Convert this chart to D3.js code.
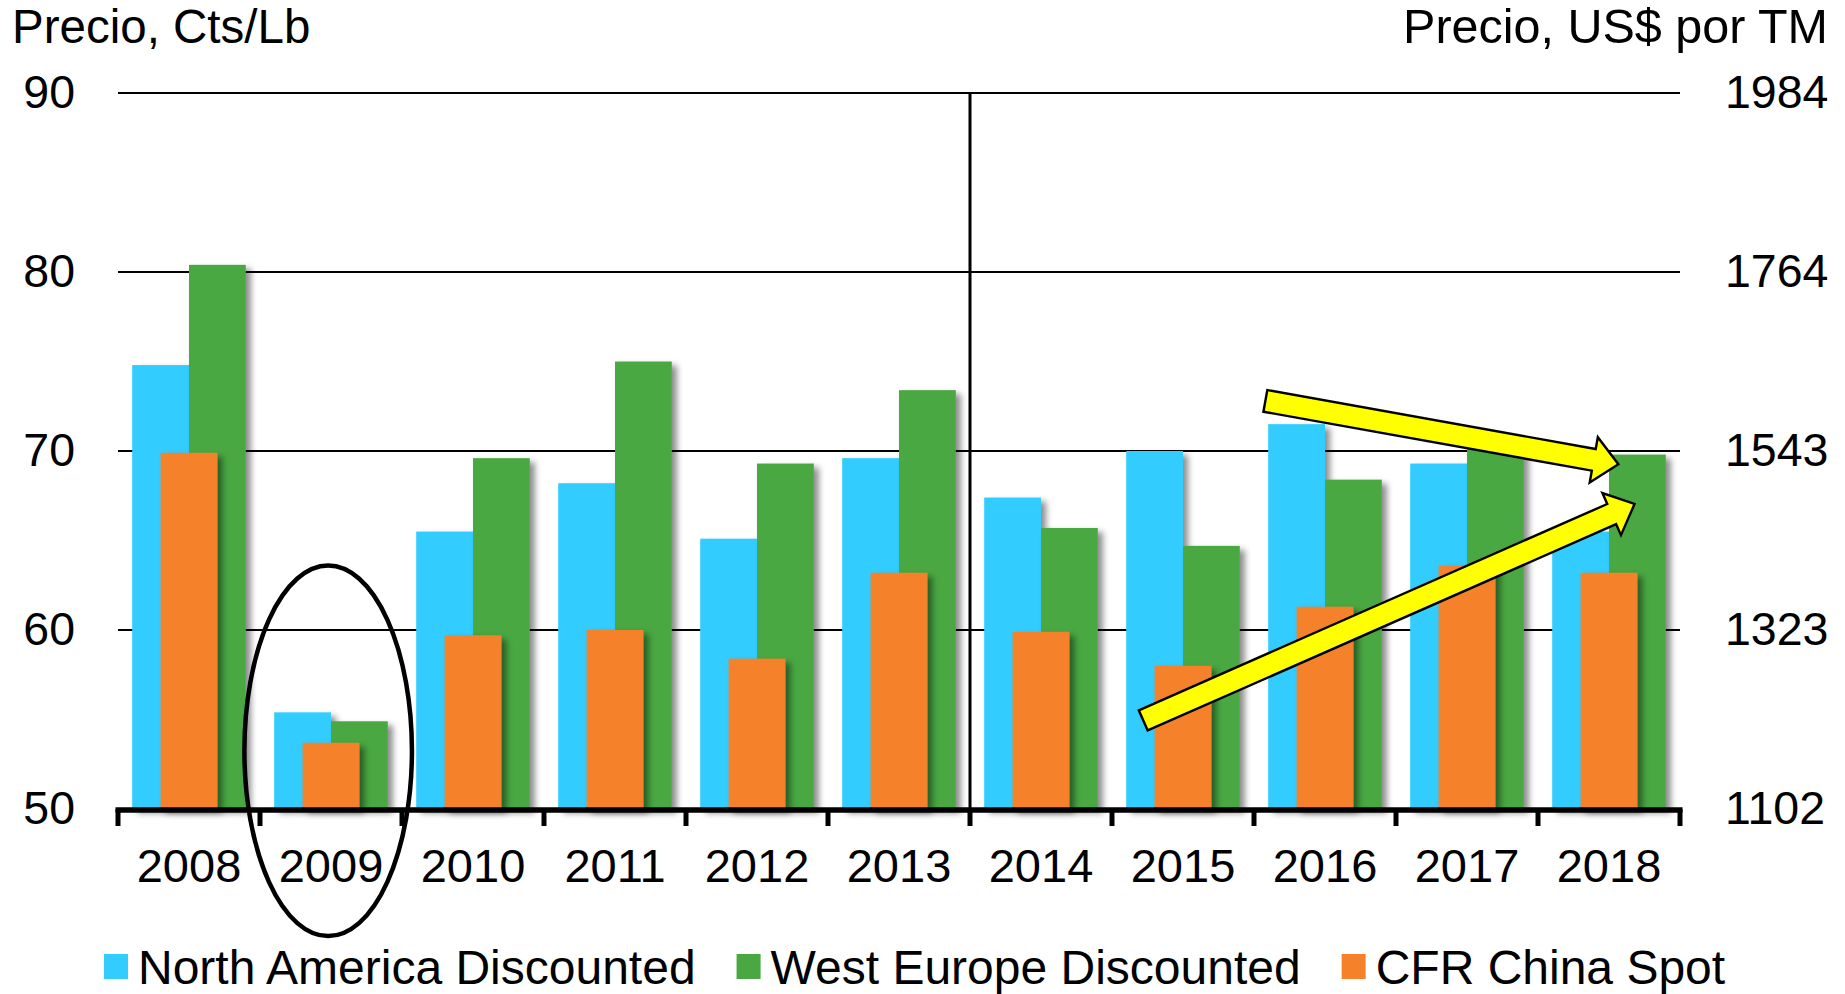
<!DOCTYPE html>
<html>
<head>
<meta charset="utf-8">
<script src="https://cdn.jsdelivr.net/npm/d3@7"></script>
<style>
  html, body { margin: 0; padding: 0; background: #ffffff; }
  svg { display: block; }
  text { font-family: "Liberation Sans", Arial, sans-serif; fill: #000; }
</style>
</head>
<body>
<svg id="chart" width="1845" height="994"></svg>
<script>
// ---------------- DATA ----------------
const years = ["2008","2009","2010","2011","2012","2013","2014","2015","2016","2017","2018"];
const northAmerica = [74.8, 55.4, 65.5, 68.2, 65.1, 69.6, 67.4, 70.0, 71.5, 69.3, 65.5];
const westEurope   = [80.4, 54.9, 69.6, 75.0, 69.3, 73.4, 65.7, 64.7, 68.4, 70.3, 69.8];
const chinaSpot    = [69.9, 53.7, 59.7, 60.0, 58.4, 63.2, 59.9, 58.0, 61.3, 63.6, 63.2];
const leftTicks  = [50, 60, 70, 80, 90];
const rightTicks = [1102, 1323, 1543, 1764, 1984];
const seriesNames = ["North America Discounted", "West Europe Discounted", "CFR China Spot"];
const leftTitle = "Precio, Cts/Lb";
const rightTitle = "Precio, US$ por TM";
const splitYear = "2014";
// annotations: [year, fraction within band, value]
const trendArrows = [
  { from: ["2016", 0.08, 72.8], to: ["2018", 0.566, 69.26] },
  { from: ["2015", 0.22, 54.95], to: ["2018", 0.68, 67.04] }
];
const highlightYear = "2009";

// ---------------- LAYOUT ----------------
const svg = d3.select("#chart");
const L = 118, R = 1680, T = 93, B = 809;
const colors = { na: "#33CCFF", we: "#4AA842", cn: "#F5822A" };
const FS = 46;

const x = d3.scaleBand().domain(years).range([L, R]).padding(0);
const y = d3.scaleLinear().domain([50, 90]).range([B, T]);
const yR = d3.scaleLinear().domain([1102, 1984]).range([B, T]);
const bw = x.bandwidth();

// shadow filter
const defs = svg.append("defs");
const f = defs.append("filter").attr("id", "shadow").attr("x", "-20%").attr("y", "-5%").attr("width", "150%").attr("height", "115%");
f.append("feDropShadow").attr("dx", 5).attr("dy", 4).attr("stdDeviation", 3)
  .attr("flood-color", "#000").attr("flood-opacity", 0.45);

// gridlines
svg.append("g").selectAll("line").data(leftTicks.slice(1)).join("line")
  .attr("x1", L).attr("x2", R)
  .attr("y1", d => y(d)).attr("y2", d => y(d))
  .attr("stroke", "#000").attr("stroke-width", 2.2);

// bars
const series = [
  { key: "na", values: northAmerica, off: 0.1 },
  { key: "we", values: westEurope, off: 0.5 },
  { key: "cn", values: chinaSpot, off: 0.3 }
];
const barsG = svg.append("g");
series.forEach(s => {
  barsG.append("g").attr("filter", "url(#shadow)")
    .selectAll("rect").data(years.map((yr, i) => ({ yr, v: s.values[i] }))).join("rect")
    .attr("x", d => x(d.yr) + s.off * bw)
    .attr("width", 0.4 * bw)
    .attr("y", d => y(d.v))
    .attr("height", d => y(50) - y(d.v))
    .attr("fill", colors[s.key]);
});

// vertical split line
svg.append("line")
  .attr("x1", x(splitYear)).attr("x2", x(splitYear))
  .attr("y1", y(90)).attr("y2", y(50))
  .attr("stroke", "#000").attr("stroke-width", 3);

// x axis line + ticks
svg.append("line").attr("x1", L - 2.5).attr("x2", R + 2.5).attr("y1", B + 1).attr("y2", B + 1)
  .attr("stroke", "#000").attr("stroke-width", 5.5);
const bounds = years.map(yr => x(yr)).concat([R]);
svg.append("g").selectAll("line").data(bounds).join("line")
  .attr("x1", d => d).attr("x2", d => d)
  .attr("y1", B).attr("y2", B + 17)
  .attr("stroke", "#000").attr("stroke-width", 5);

// year labels
svg.append("g").selectAll("text").data(years).join("text")
  .attr("x", d => x(d) + bw / 2).attr("y", 882)
  .attr("text-anchor", "middle").attr("font-size", FS + 1)
  .text(d => d);

// left axis labels
const leftAxis = d3.axisLeft(y).tickValues(leftTicks).tickSize(0).tickPadding(43);
const gl = svg.append("g").attr("transform", `translate(${L},0)`).call(leftAxis);
gl.select(".domain").remove();
gl.selectAll("text").attr("font-size", FS + 0.5).attr("font-family", "Liberation Sans, Arial, sans-serif").attr("fill", "#000");

// right axis labels
const rightAxis = d3.axisRight(yR).tickValues(rightTicks).tickSize(0).tickPadding(45).tickFormat(d3.format("d"));
const gr = svg.append("g").attr("transform", `translate(${R},0)`).call(rightAxis);
gr.select(".domain").remove();
gr.selectAll("text").attr("font-size", FS + 0.5).attr("font-family", "Liberation Sans, Arial, sans-serif").attr("fill", "#000");

// titles
svg.append("text").attr("x", 12).attr("y", 43).attr("font-size", 47.5).text(leftTitle);
svg.append("text").attr("x", 1828).attr("y", 43).attr("text-anchor", "end").attr("font-size", 48.5).text(rightTitle);

// legend
const legendColors = [colors.na, colors.we, colors.cn];
let lx = 104;
const lg = svg.append("g");
seriesNames.forEach((name, i) => {
  lg.append("rect").attr("x", lx).attr("y", 954).attr("width", 24).attr("height", 25).attr("fill", legendColors[i]);
  const t = lg.append("text").attr("x", lx + 34).attr("y", 984).attr("font-size", 48).text(name);
  const w = t.node().getComputedTextLength();
  lx = lx + 34 + w + 41;
});

// trend arrows
function pt(a) { return [x(a[0]) + a[1] * bw, y(a[2])]; }
function arrowPath(p0, p1) {
  const dx = p1[0] - p0[0], dy = p1[1] - p0[1];
  const len = Math.hypot(dx, dy);
  const ux = dx / len, uy = dy / len, nx = -uy, ny = ux;
  const hw = 11, hh = 23, hl = 25;
  const bx = p1[0] - ux * hl, by = p1[1] - uy * hl;
  const pts = [
    [p0[0] + nx * hw, p0[1] + ny * hw],
    [bx + nx * hw, by + ny * hw],
    [bx + nx * hh, by + ny * hh],
    [p1[0], p1[1]],
    [bx - nx * hh, by - ny * hh],
    [bx - nx * hw, by - ny * hw],
    [p0[0] - nx * hw, p0[1] - ny * hw]
  ];
  return d3.line()(pts) + "Z";
}
svg.append("g").selectAll("path").data(trendArrows).join("path")
  .attr("d", d => arrowPath(pt(d.from), pt(d.to)))
  .attr("fill", "#FFFF00").attr("stroke", "#000").attr("stroke-width", 2.4)
  .attr("stroke-linejoin", "miter");

// highlight ellipse
const ecx = x(highlightYear) + 0.48 * bw;
const eTop = y(63.6), eBot = y(42.9);
svg.append("ellipse")
  .attr("cx", ecx).attr("cy", (eTop + eBot) / 2)
  .attr("rx", 0.59 * bw).attr("ry", (eBot - eTop) / 2)
  .attr("fill", "none").attr("stroke", "#000").attr("stroke-width", 4.5);
</script>
</body>
</html>
